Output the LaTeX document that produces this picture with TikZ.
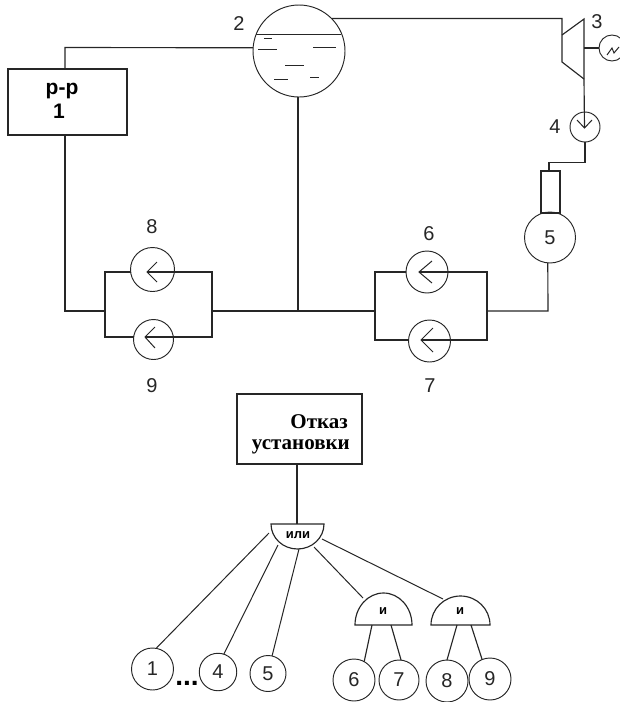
\documentclass[tikz,border=0pt]{standalone}
\usepackage{fontspec}
\setmainfont{Liberation Sans}
\newfontfamily\serifbold[BoldFont={Liberation Serif Bold}]{Liberation Serif}
\definecolor{ink}{HTML}{262626}
\tikzset{
  wire/.style={draw=ink,line width=1.15pt,line join=miter},
  thin wire/.style={draw=ink,line width=1pt},
  round/.style={circle,draw=ink,line width=0.95pt,inner sep=0pt,outer sep=0pt,minimum size=#1},
  box/.style={rectangle,draw=ink,line width=1.15pt,inner sep=0pt,outer sep=0pt},
  num/.style={inner sep=0pt,outer sep=0pt,text=ink,font=\fontsize{20}{20}\selectfont},
  leaf/.style={round=#1,text=ink,font=\fontsize{20}{20}\selectfont},
  gatelabel/.style={inner sep=0pt,outer sep=0pt,text=black,font=\fontsize{13}{13}\selectfont\bfseries},
  gateshape/.style={draw=ink,line width=1.15pt},
}
\begin{document}
\begin{tikzpicture}[x=1pt,y=-1pt]
\useasboundingbox (0,0) rectangle (620,702);
\clip (0,0) rectangle (620,702);

% --- upper scheme ---
\node[round=92pt] (drum) at (299,51) {};
\draw[thin wire] (256,34) -- (341,34);
\draw[thin wire] (264,38) -- (272,38) (258,49) -- (277,49) (313,47) -- (336,47)
  (285,65) -- (304,65) (274,79) -- (288,79) (310,77) -- (319,77);
\node[num] (l2) at (239,24) {2};

\node[box,minimum width=119pt,minimum height=66pt] (reactor) at (67.5,102) {};
\node[anchor=base,inner sep=0pt,text=black,font=\fontsize{21}{21}\selectfont\bfseries] (reactortxt) at (62,94) {р-р};
\node[anchor=base,inner sep=0pt,text=black,font=\fontsize{21}{21}\selectfont\bfseries] (reactornum) at (59,118) {1};

\coordinate (rtop) at (65,69);
\coordinate (rbot) at (65,135);
\draw[wire] (drum.176) -- (65,47.5) -- (rtop);

% turbine
\coordinate (tin) at (562,18);
\coordinate (ta) at (562,35);
\coordinate (tb) at (562,62);
\coordinate (tc) at (584,19);
\coordinate (td) at (584,79);
\draw[wire] (drum.45) -- (tin |- drum.45) -- (tb) -- (td);
\draw[wire] (ta) -- (tc) -- (td);
\node[num] (l3) at (597,22) {3};
\node[round=26pt] (gen) at (612,48) {};
\draw[wire] (584,48) -- (gen.west);
\draw[thin wire] (607,55) -- (612,48) -- (614,53) -- (619,47);

% condensate pump 4
\node[round=30pt] (p4) at (585,127) {};
\coordinate (p4tip) at (584.5,128);
\draw[wire] (td) -- (p4tip);
\draw[thin wire] (577,120) -- (p4tip) -- (592,120);
\node[num] (l4) at (555,127) {4};

% condenser 5
\node[round=51pt,text=ink,font=\fontsize{20}{20}\selectfont] (c5) at (550,237.5) {5};
\node[box,minimum width=19pt,minimum height=42pt] (neck) at (550.5,192) {};
\draw[wire] (p4.south) -- (585,162.5) -- (549,162.5) -- (549,171);

% pumps 6, 7
\coordinate (rl) at (375,311);
\coordinate (rr) at (487,311);
\node[round=42pt] (p6) at (427,272) {};
\node[round=42pt] (p7) at (429.5,341) {};
\coordinate (t6) at (419,272);
\coordinate (t7) at (421,340);
\draw[wire] (rr) -- (487,272) -- (t6);
\draw[wire] (rr) -- (487,340) -- (t7);
\draw[wire] (rl) -- (375,272) -- (p6.west);
\draw[wire] (rl) -- (375,340) -- (p7.west |- t7);
\draw[thin wire] (432,261) -- (t6) -- (432,283);
\draw[thin wire] (433,328) -- (t7) -- (433,352);
\draw[wire] (rr) -- (548,311) -- (c5.265);
\node[num] (l6) at (429,234) {6};
\node[num] (l7) at (430,386) {7};

% pumps 8, 9
\coordinate (ll) at (105,311);
\coordinate (lr) at (212,311);
\node[round=44pt] (p8) at (152.5,269.5) {};
\node[round=40pt] (p9) at (153.5,339.5) {};
\coordinate (t8) at (147,272);
\coordinate (t9) at (145,337);
\draw[wire] (lr) -- (212,272) -- (t8);
\draw[wire] (lr) -- (212,337) -- (t9);
\draw[wire] (ll) -- (105,272) -- (130.7,272);
\draw[wire] (ll) -- (105,337) -- (133.7,337);
\draw[thin wire] (157,262) -- (t8) -- (157,282);
\draw[thin wire] (155,327) -- (t9) -- (155,348);
\node[num] (l8) at (152,227) {8};
\node[num] (l9) at (152,386) {9};

\draw[wire] (rbot) -- (65,311) -- (ll);
\draw[wire] (lr) -- (rl);
\draw[wire] (drum.south -| 298,0) -- (298,311);

% --- fault tree ---
\node[box,minimum width=125pt,minimum height=70pt] (top) at (299.5,429) {};
\node[anchor=base east,inner sep=0pt,text=black,font=\fontsize{21}{21}\selectfont\serifbold\bfseries] (t1) at (348,428) {Отказ};
\node[anchor=base east,inner sep=0pt,text=black,font=\fontsize{21}{21}\selectfont\serifbold\bfseries] (t2) at (350,449) {установки};

\draw[gateshape] (271,524) -- (324,524) arc[start angle=0,end angle=-180,x radius=26.5pt,y radius=25pt] -- cycle;
\draw[gateshape] (355,625) -- (412,625) arc[start angle=0,end angle=180,x radius=28.5pt,y radius=32pt] -- cycle;
\draw[gateshape] (431,625) -- (490,625) arc[start angle=0,end angle=180,x radius=29.5pt,y radius=29pt] -- cycle;
\node[gatelabel] (gor) at (298,535) {или};
\node[gatelabel] (gand1) at (383,611) {и};
\node[gatelabel] (gand2) at (460,611) {и};

\coordinate (gt) at (297,524);
\draw[wire] (gt |- top.south) -- (gt);

\node[leaf=42pt] (n1) at (152.5,669) {1};
\node[leaf=37.5pt] (n4) at (218,672) {4};
\node[leaf=36pt] (n5) at (268,673.5) {5};
\node[leaf=42pt] (n6) at (354,680) {6};
\node[leaf=40pt] (n7) at (399,680) {7};
\node[leaf=42pt] (n8) at (447,681) {8};
\node[leaf=42pt] (n9) at (490,679) {9};
\node[anchor=base,inner sep=0pt,text=black,font=\fontsize{28}{28}\selectfont\bfseries] (dots) at (187,685) {...};

\coordinate (o1) at (269,533);
\coordinate (o2) at (278,545);
\coordinate (o3) at (299,549);
\coordinate (o4) at (314,547);
\coordinate (o5) at (322,539);
\coordinate (a1) at (363,598);
\coordinate (a2) at (443,599);
\coordinate (b1) at (372,625);
\coordinate (b2) at (391,625);
\coordinate (b3) at (457,625);
\coordinate (b4) at (471,625);
\draw[thin wire] (o1) -- (n1.80);
\draw[thin wire] (o2) -- (n4.72);
\draw[thin wire] (o3) -- (n5.77);
\draw[thin wire] (o4) -- (a1);
\draw[thin wire] (o5) -- (a2);
\draw[wire] (b1) -- (n6.61);
\draw[wire] (b2) -- (n7.84);
\draw[wire] (b3) -- (n8.90);
\draw[wire] (b4) -- (n9.112);
\end{tikzpicture}
\end{document}
